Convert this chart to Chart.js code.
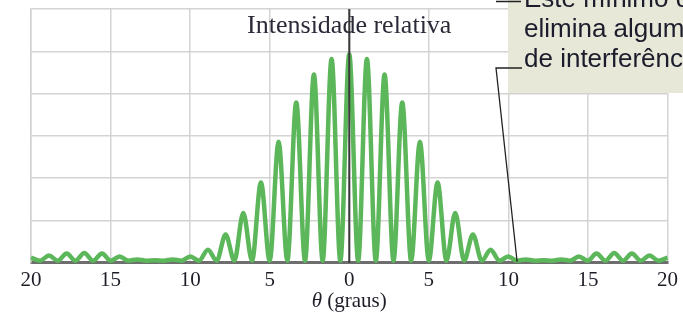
<!DOCTYPE html>
<html>
<head>
<meta charset="utf-8">
<script src="https://cdn.jsdelivr.net/npm/chart.js@4.4.1/dist/chart.umd.min.js"></script>
<style>
  html, body { margin: 0; padding: 0; background: #fff; }
  canvas { display: block; }
</style>
</head>
<body>
<canvas id="grafico" width="683" height="315"></canvas>
<script>
// angulo em graus (picos e minimos)
const theta = [-20, -19.43, -18.87, -18.32, -17.76, -17.21, -16.65, -16.1, -15.54, -14.99,
  -14.43, -13.88, -13.32, -12.77, -12.21, -11.66, -11.1, -10.55, -9.99, -9.44,
  -8.88, -8.33, -7.77, -7.22, -6.66, -6.11, -5.55, -5.0, -4.44, -3.89,
  -3.33, -2.78, -2.22, -1.67, -1.11, -0.56, 0, 0.56, 1.11, 1.67,
  2.22, 2.78, 3.33, 3.89, 4.44, 5.0, 5.55, 6.11, 6.66, 7.22,
  7.77, 8.33, 8.88, 9.44, 9.99, 10.55, 11.1, 11.66, 12.21, 12.77,
  13.32, 13.88, 14.43, 14.99, 15.54, 16.1, 16.65, 17.21, 17.76, 18.32,
  18.87, 19.43, 20];

// intensidade relativa (unidades da grade)
const intensidade = [0.12, 0.05, 0.17, 0.05, 0.22, 0.05, 0.23, 0.05, 0.22, 0.05,
  0.15, 0.05, 0.08, 0.05, 0.06, 0.05, 0.08, 0.05, 0.15, 0.05,
  0.31, 0.05, 0.67, 0.05, 1.18, 0.05, 1.9, 0.05, 2.86, 0.05,
  3.79, 0.05, 4.45, 0.05, 4.82, 0.05, 4.93, 0.05, 4.82, 0.05,
  4.45, 0.05, 3.79, 0.05, 2.86, 0.05, 1.9, 0.05, 1.18, 0.05,
  0.67, 0.05, 0.31, 0.05, 0.15, 0.05, 0.08, 0.05, 0.06, 0.05,
  0.08, 0.05, 0.15, 0.05, 0.22, 0.05, 0.23, 0.05, 0.22, 0.05,
  0.17, 0.05, 0.12];

const ticksX = [-20, -15, -10, -5, 0, 5, 10, 15, 20];

const tituloGrafico = 'Intensidade relativa';
const notaLinhas = ['Este mínimo de difração', 'elimina algumas franjas', 'de interferência'];

const corGrade = '#d3d3d3';

const extras = {
  id: 'extras',
  afterDatasetsDraw(chart) {
    const { ctx, chartArea, scales } = chart;
    const x0 = scales.x.getPixelForValue(0);
    ctx.save();
    ctx.strokeStyle = '#3a3a3a';
    ctx.lineWidth = 2;
    ctx.beginPath();
    ctx.moveTo(x0, chartArea.top);
    ctx.lineTo(x0, chartArea.bottom);
    ctx.stroke();
    ctx.restore();
  },
  afterDraw(chart) {
    const { ctx, scales } = chart;
    const x0 = scales.x.getPixelForValue(0);
    ctx.save();

    // titulo dentro da area
    ctx.font = '24px "Liberation Serif"';
    const w = ctx.measureText(tituloGrafico).width;
    ctx.font = (24 * 204 / w).toFixed(1) + 'px "Liberation Serif"';
    ctx.fillStyle = '#2a2a38';
    ctx.textAlign = 'center';
    ctx.textBaseline = 'alphabetic';
    ctx.fillText(tituloGrafico, x0, 33);

    // titulo do eixo x
    ctx.textAlign = 'left';
    ctx.font = 'italic 21px "Liberation Serif"';
    const wt = ctx.measureText('θ').width;
    ctx.font = '21px "Liberation Serif"';
    const wr = ctx.measureText(' (graus)').width;
    let xs = x0 - (wt + wr) / 2;
    ctx.fillStyle = '#1e1e28';
    ctx.font = 'italic 21px "Liberation Serif"';
    ctx.fillText('θ', xs, 307);
    ctx.font = '21px "Liberation Serif"';
    ctx.fillText(' (graus)', xs + wt, 307);

    // caixa da nota
    ctx.fillStyle = '#e7e8d8';
    ctx.fillRect(508, 0, 175, 93);
    ctx.fillStyle = '#1c1c2c';
    ctx.font = '26px "Liberation Sans"';
    ctx.fillText(notaLinhas[0], 524, 7);
    ctx.fillText(notaLinhas[1], 524, 37);
    ctx.fillText(notaLinhas[2], 524, 67);

    // linhas de chamada
    const xMin = scales.x.getPixelForValue(10.55);
    ctx.strokeStyle = '#222';
    ctx.lineWidth = 1.3;
    ctx.beginPath();
    ctx.moveTo(496, 1.5);
    ctx.lineTo(521, 1.5);
    ctx.moveTo(522, 68);
    ctx.lineTo(496, 68);
    ctx.lineTo(xMin, scales.y.getPixelForValue(0) - 1);
    ctx.stroke();
    ctx.restore();
  }
};

const ctx = document.getElementById('grafico').getContext('2d');

new Chart(ctx, {
  type: 'line',
  data: {
    datasets: [{
      data: theta.map((t, i) => ({ x: t, y: intensidade[i] })),
      borderColor: '#5cb65a',
      borderWidth: 4.5,
      pointRadius: 0,
      fill: false,
      cubicInterpolationMode: 'monotone',
      clip: 6
    }]
  },
  options: {
    responsive: false,
    animation: false,
    layout: { padding: { left: 31, right: 15, top: 9, bottom: 17 } },
    plugins: {
      legend: { display: false },
      tooltip: { enabled: false }
    },
    scales: {
      x: {
        type: 'linear',
        min: -20,
        max: 20,
        afterBuildTicks: axis => { axis.ticks = ticksX.map(v => ({ value: v })); },
        ticks: {
          callback: v => Math.abs(v),
          font: { family: 'Liberation Serif', size: 21 },
          color: '#1e1e28',
          padding: 5,
          maxRotation: 0
        },
        grid: { color: corGrade, lineWidth: 1.5, drawTicks: false },
        border: { color: '#6e6e6e', width: 3 }
      },
      y: {
        min: 0,
        max: 6,
        ticks: { display: false, stepSize: 1 },
        grid: { color: corGrade, lineWidth: 1.5, drawTicks: false },
        border: { color: corGrade, width: 1.5 }
      }
    }
  },
  plugins: [extras]
});
</script>
</body>
</html>
